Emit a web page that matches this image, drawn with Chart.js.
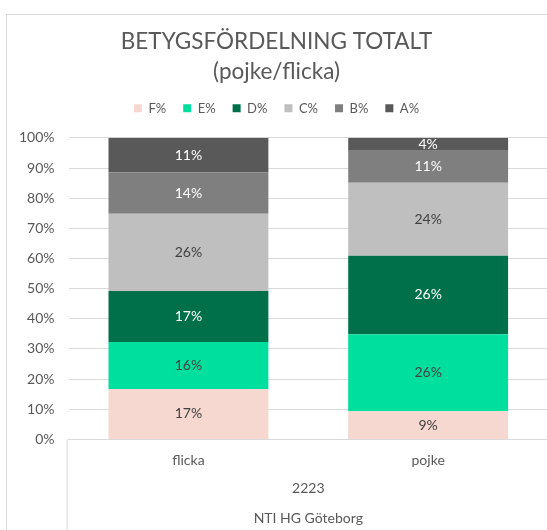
<!DOCTYPE html>
<html lang="sv">
  <head>
    <meta charset="utf-8" />
    <title>Betygsfördelning totalt</title>
    <script src="https://cdn.jsdelivr.net/npm/chart.js"></script>
    <style>
      body { margin: 0; background: #fff; overflow: hidden; }
      #wrap { position: relative; width: 548px; height: 530px; }
      #frame {
        position: absolute; left: 6px; top: 14px; width: 600px; height: 600px;
        border: 1px solid #d9d9d9; box-sizing: border-box;
      }
    </style>
  </head>
  <body>
    <div id="wrap">
      <div id="frame"></div>
      <canvas id="myChart"></canvas>
    </div>

    <script>
      // data (share of grades, %)
      var groups = ["flicka", "pojke"];
      var grades = ["F%", "E%", "D%", "C%", "B%", "A%"];
      var fData = [16.7, 9.3];
      var eData = [15.6, 25.6];
      var dData = [16.9, 26.0];
      var cData = [25.6, 24.2];
      var bData = [13.8, 10.6];
      var aData = [11.4, 4.3];
      var yTicks = [0, 10, 20, 30, 40, 50, 60, 70, 80, 90, 100];
      var axisTitle = ["2223", "NTI HG Göteborg"];

      var colors = ["#f6d8d0", "#00df9d", "#00704b", "#bfbfbf", "#7f7f7f", "#595959"];
      var labelColors = ["#404040", "#404040", "#ffffff", "#404040", "#ffffff", "#ffffff"];
      var font = "Lato";
      var grey = "#595959";

      var series = [fData, eData, dData, cData, bData, aData];

      let valueLabels = {
        id: "valueLabels",
        afterDatasetsDraw: (chart) => {
          let ctx = chart.ctx;
          ctx.save();
          ctx.font = "14px " + font;
          ctx.textAlign = "center";
          ctx.textBaseline = "middle";
          chart.data.datasets.forEach((ds, i) => {
            chart.getDatasetMeta(i).data.forEach((bar, j) => {
              let p = bar.getCenterPoint();
              ctx.fillStyle = labelColors[i];
              ctx.fillText(Math.round(ds.data[j]) + "%", p.x, p.y);
            });
          });
          ctx.restore();
        },
      };

      // left edge of the multi-level category box
      let categoryBox = {
        id: "categoryBox",
        afterDraw: (chart) => {
          let ctx = chart.ctx;
          let x = chart.chartArea.left - 1.5;
          ctx.save();
          ctx.strokeStyle = "#d9d9d9";
          ctx.lineWidth = 1;
          ctx.beginPath();
          ctx.moveTo(x, chart.chartArea.bottom);
          ctx.lineTo(x, chart.height);
          ctx.stroke();
          ctx.restore();
        },
      };

      // more room between legend and plot
      let legendGap = {
        id: "legendGap",
        beforeInit: (chart) => {
          let fit = chart.legend.fit;
          chart.legend.fit = function () {
            fit.bind(chart.legend)();
            this.height += 13;
          };
        },
      };

      new Chart(document.getElementById("myChart"), {
        type: "bar",
        data: {
          labels: groups,
          datasets: grades.map((g, i) => ({
            label: g,
            data: series[i],
            backgroundColor: colors[i],
            barPercentage: 0.667,
            categoryPercentage: 1,
          })),
        },
        options: {
          responsive: true,
          maintainAspectRatio: false,
          animation: false,
          layout: { padding: { left: 5, right: 0, top: 27, bottom: 0 } },
          plugins: {
            title: {
              display: true,
              text: ["BETYGSFÖRDELNING TOTALT", "(pojke/flicka)"],
              color: grey,
              font: { family: font, size: 22.5, weight: "normal", lineHeight: 1.33 },
              padding: { top: 0, bottom: -2 },
            },
            legend: {
              labels: {
                color: grey,
                font: { family: font, size: 13 },
                boxWidth: 8,
                boxHeight: 8,
                padding: 17,
              },
            },
            tooltip: { enabled: false },
          },
          scales: {
            x: {
              stacked: true,
              grid: { display: false },
              border: { color: "#d9d9d9" },
              ticks: { color: grey, font: { family: font, size: 14 }, padding: 5 },
              title: {
                display: true,
                text: axisTitle,
                color: grey,
                font: { family: font, size: 14, lineHeight: 2.1 },
                padding: { top: 0, bottom: -3 },
              },
            },
            y: {
              stacked: true,
              min: 0,
              max: 100,
              afterBuildTicks: (axis) => {
                axis.ticks = yTicks.map((v) => ({ value: v }));
              },
              grid: { color: "#d9d9d9", drawTicks: false },
              border: { display: false },
              ticks: {
                color: grey,
                font: { family: font, size: 14 },
                padding: 14,
                callback: (v) => v + "%",
              },
            },
          },
        },
        plugins: [valueLabels, categoryBox, legendGap],
      });
    </script>
  </body>
</html>
